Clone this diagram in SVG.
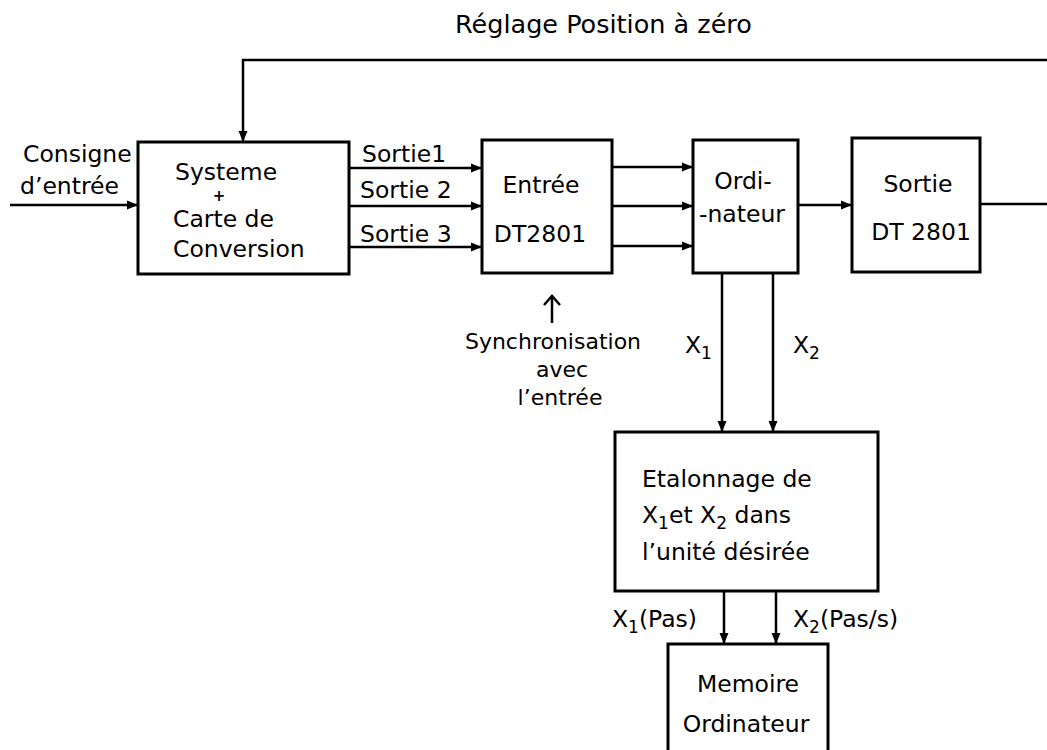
<svg xmlns="http://www.w3.org/2000/svg" width="1047" height="750" viewBox="0 0 1047 750">
<style>
  text { font-family: "DejaVu Sans", "Liberation Sans", sans-serif; font-size: 23.5px; fill: #000; }
  .box { fill: #fff; stroke: #000; stroke-width: 3; }
  .ln { fill: none; stroke: #000; stroke-width: 2.5; }
  .arr { marker-end: url(#ah); }
  .sub { font-size: 17px; }
  .sm { font-size: 22px; }
</style>
<defs>
  <marker id="ah" markerUnits="userSpaceOnUse" markerWidth="12" markerHeight="10" refX="11" refY="5" orient="auto">
    <path d="M0,0.5 L11,5 L0,9.5 z" fill="#000"/>
  </marker>
  <marker id="ov" markerUnits="userSpaceOnUse" markerWidth="20" markerHeight="20" refX="10" refY="10" orient="auto">
    <path d="M1,2 L10,10 L1,18" fill="none" stroke="#000" stroke-width="2.5"/>
  </marker>
</defs>
<rect width="1047" height="750" fill="#fff"/>

<text x="455" y="33" style="font-size:25.5px">Réglage Position à zéro</text>

<g id="connectors">
  <path class="ln arr" d="M1047,60 L243,60 L243,142"/>
  <path class="ln arr" d="M10,205 L138,205"/>
  <path class="ln arr" d="M349,168 L482,168"/>
  <path class="ln arr" d="M349,206 L482,206"/>
  <path class="ln arr" d="M349,247 L482,247"/>
  <path class="ln arr" d="M612,167 L693,167"/>
  <path class="ln arr" d="M612,206 L693,206"/>
  <path class="ln arr" d="M612,246 L693,246"/>
  <path class="ln arr" d="M798,205 L852,205"/>
  <path class="ln" d="M980,204 L1047,204"/>
  <path class="ln" d="M552,323 L552,296" marker-end="url(#ov)"/>
  <path class="ln arr" d="M722,273 L722,432"/>
  <path class="ln arr" d="M773,273 L773,432"/>
  <path class="ln arr" d="M724,591 L724,644"/>
  <path class="ln arr" d="M776,591 L776,644"/>
</g>

<g id="labels">
  <text x="23" y="162">Consigne</text>
  <text x="20" y="194">d’entrée</text>
  <text x="362" y="162">Sortie1</text>
  <text x="360" y="198">Sortie 2</text>
  <text x="360" y="242">Sortie 3</text>
  <text class="sm" x="553" y="349" text-anchor="middle">Synchronisation</text>
  <text class="sm" x="562" y="377" text-anchor="middle">avec</text>
  <text class="sm" x="560" y="405" text-anchor="middle">l’entrée</text>
  <text x="685" y="353">X<tspan class="sub" dy="6">1</tspan></text>
  <text x="793" y="353">X<tspan class="sub" dy="6">2</tspan></text>
  <text x="612" y="627">X<tspan class="sub" dy="6">1</tspan><tspan dy="-6">(Pas)</tspan></text>
  <text x="793" y="627">X<tspan class="sub" dy="6">2</tspan><tspan dy="-6">(Pas/s)</tspan></text>
</g>

<g id="node-systeme">
  <rect class="box" x="138" y="142" width="211" height="132"/>
  <text x="175" y="180">Systeme</text>
  <text x="219" y="201" text-anchor="middle" style="font-size:15px;font-weight:bold">+</text>
  <text x="173" y="227">Carte de</text>
  <text x="173" y="257">Conversion</text>
</g>

<g id="node-entree">
  <rect class="box" x="482" y="140" width="130" height="133"/>
  <text x="541" y="193" text-anchor="middle">Entrée</text>
  <text x="540" y="242" text-anchor="middle">DT2801</text>
</g>

<g id="node-ordinateur">
  <rect class="box" x="693" y="140" width="105" height="133"/>
  <text x="743" y="189" text-anchor="middle">Ordi-</text>
  <text x="742" y="222" text-anchor="middle">-nateur</text>
</g>

<g id="node-sortie">
  <rect class="box" x="852" y="138" width="128" height="134"/>
  <text x="918" y="192" text-anchor="middle">Sortie</text>
  <text x="921" y="240" text-anchor="middle">DT 2801</text>
</g>

<g id="node-etalonnage">
  <rect class="box" x="615" y="432" width="263" height="159"/>
  <text x="642" y="487">Etalonnage de</text>
  <text x="642" y="523">X<tspan class="sub" dy="6">1</tspan><tspan dy="-6">et X</tspan><tspan class="sub" dy="6">2</tspan><tspan dy="-6"> dans</tspan></text>
  <text x="642" y="560">l’unité désirée</text>
</g>

<g id="node-memoire">
  <rect class="box" x="668" y="644" width="160" height="120"/>
  <text x="748" y="692" text-anchor="middle">Memoire</text>
  <text x="746" y="732" text-anchor="middle">Ordinateur</text>
</g>
</svg>
